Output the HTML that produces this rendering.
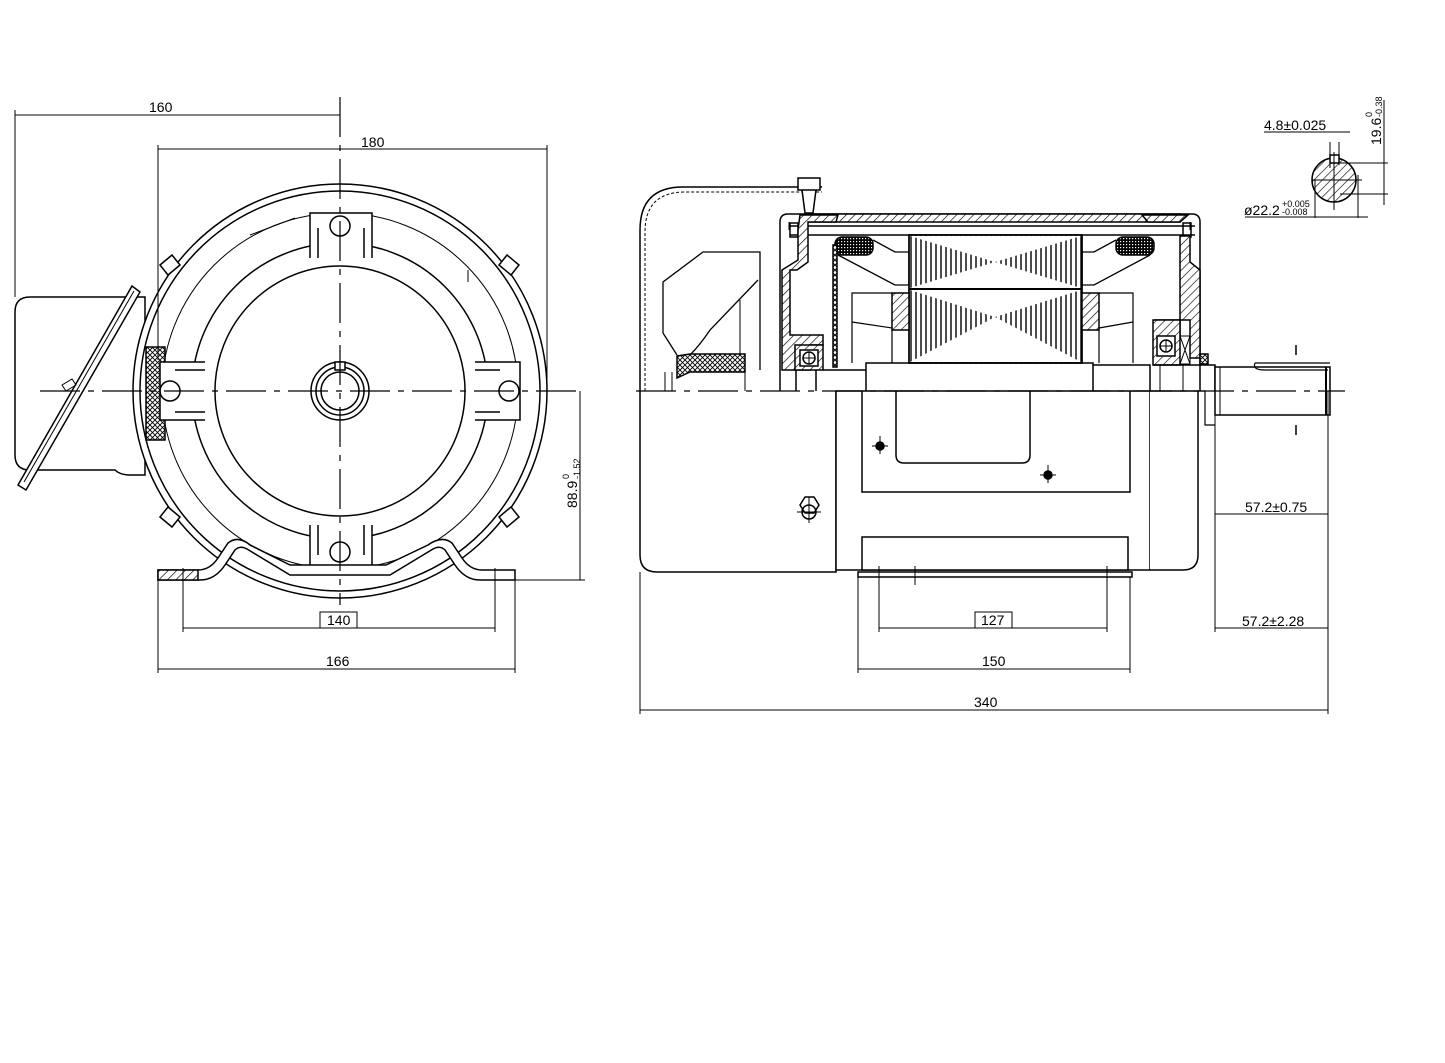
<!DOCTYPE html>
<html><head><meta charset="utf-8"><style>
html,body{margin:0;padding:0;background:#fff}
svg{display:block}
text{font-family:"Liberation Sans",sans-serif;fill:#000}
</style></head><body>
<svg width="1445" height="1063" viewBox="0 0 1445 1063" xmlns="http://www.w3.org/2000/svg">
<defs>
<pattern id="h" width="6" height="6" patternUnits="userSpaceOnUse" patternTransform="rotate(45)">
<rect width="6" height="6" fill="#fff"/><line x1="0" y1="0" x2="0" y2="6" stroke="#000" stroke-width="1.3"/></pattern>
<pattern id="x" width="5" height="5" patternUnits="userSpaceOnUse">
<rect width="5" height="5" fill="#fff"/><path d="M0 0L5 5M5 0L0 5" stroke="#000" stroke-width="0.9"/></pattern>
<pattern id="v" width="5" height="5" patternUnits="userSpaceOnUse">
<rect width="5" height="5" fill="#fff"/><line x1="1" y1="0" x2="1" y2="5" stroke="#000" stroke-width="1.4"/></pattern>
<pattern id="g" width="3" height="3" patternUnits="userSpaceOnUse">
<rect width="3" height="3" fill="#000"/><rect x="1" y="1" width="1.2" height="1.2" fill="#fff"/></pattern>
</defs>
<g fill="none" stroke="#000" stroke-width="1.5">
<!-- ============ LEFT VIEW ============ -->
<path d="M30 297 H145 V475 H130 Q120 475 115 470 L30 470 Q15 470 15 455 V312 Q15 297 30 297Z" fill="#fff"/>
<path d="M18 485 L132 286 L140 292 L26 490Z" fill="#fff"/>
<path d="M24 482 L134 291" stroke-width="1"/>
<path d="M62 385 l10 -6 l4 6 l-10 6z" stroke-width="1"/>
<circle cx="340" cy="391" r="207" fill="#fff"/>
<circle cx="340" cy="391" r="200"/>
<circle cx="340" cy="391" r="178" stroke-width="1"/>
<circle cx="340" cy="391" r="148"/>
<circle cx="340" cy="391" r="125"/>
<circle cx="340" cy="391" r="29"/>
<circle cx="340" cy="391" r="24"/>
<circle cx="340" cy="391" r="19"/>
<rect x="335" y="362" width="10" height="8" fill="#fff"/>
<rect x="146" y="347" width="19" height="93" fill="url(#x)"/>
<path d="M310 258 V213 H372 V258 M318 258 V228 M364 258 V228" fill="#fff"/>
<circle cx="340" cy="226" r="10"/>
<path d="M310 525 V570 H372 V525 M318 525 V555 M364 525 V555" fill="#fff"/>
<circle cx="340" cy="552" r="10"/>
<path d="M205 362 H160 V420 H205 M205 370 H175 M205 412 H175" fill="#fff"/>
<circle cx="170" cy="391" r="10"/>
<path d="M475 362 H520 V420 H475 M475 370 H500 M475 412 H500" fill="#fff"/>
<circle cx="509" cy="391" r="10"/>
<path d="M160 265 l12 -10 l8 10 l-12 10z M507 255 l12 10 l-8 10 l-12 -10z M160 517 l12 10 l8 -10 l-12 -10z M507 527 l12 -10 l-8 -10 l-12 10z" fill="#fff"/>
<path d="M250 235 l45 -17 M468 270 v12" stroke-width="1"/>
<path d="M158 570 H198 Q210 570 218 558 L228 543 Q238 535 250 545 L290 565 L386 565 L428 545 Q442 535 452 543 L462 558 Q470 570 482 570 H515 V580 H480 Q465 580 455 565 L445 550 Q440 545 433 549 L390 575 H290 L247 549 Q240 545 235 550 L225 565 Q215 580 200 580 H158Z" fill="#fff"/>
<rect x="158" y="570" width="40" height="10" fill="url(#h)"/>
<g stroke-width="1.2">
<line x1="340" y1="97" x2="340" y2="605" stroke-dasharray="40 8 6 8"/>
<line x1="40" y1="391" x2="580" y2="391" stroke-dasharray="40 8 6 8"/>
</g>
<g stroke-width="1">
<line x1="15" y1="115" x2="340" y2="115"/><line x1="15" y1="110" x2="15" y2="297"/>
<line x1="158" y1="149" x2="547" y2="149"/><line x1="158" y1="145" x2="158" y2="360"/><line x1="547" y1="145" x2="547" y2="391"/>
<line x1="580" y1="391" x2="580" y2="580"/><line x1="515" y1="580" x2="585" y2="580"/>
<line x1="183" y1="628" x2="495" y2="628"/><line x1="183" y1="568" x2="183" y2="632"/><line x1="495" y1="568" x2="495" y2="632"/>
<line x1="158" y1="669" x2="515" y2="669"/><line x1="158" y1="580" x2="158" y2="673"/><line x1="515" y1="580" x2="515" y2="673"/>
<rect x="320" y="612" width="37" height="16"/>
</g>
<!-- ============ RIGHT VIEW ============ -->
<path d="M640 391 V230 Q640 187 683 187 H822" fill="#fff"/>
<path d="M645 391 V232 Q645 192 685 192 H822" stroke-width="1" stroke-dasharray="3 2"/>
<path d="M640 391 V555 Q640 572 657 572 H836 V391" fill="#fff"/>
<path d="M663 333 V282 L703 252 H760 V370 M663 333 L677 355 M690 355 Q700 345 710 330 L758 280" stroke-width="1.3"/>
<path d="M740 300 V370" stroke-width="1"/>
<path d="M677 356 L690 354 H745 V372 H690 L677 378Z" fill="url(#x)"/>
<path d="M665 372 V391 M672 372 V391 M745 372 V391" stroke-width="1"/>
<path d="M798 178 H820 V190 H798Z M802 190 L805 213 H813 L816 190" fill="#fff"/>
<path d="M780 391 V222 Q780 214 788 214 H1192 Q1200 214 1200 222 V391" fill="#fff"/>
<rect x="808" y="214" width="372" height="8" fill="url(#h)"/>
<path d="M789 222 V230 M1190 222 V230" stroke-width="1"/>
<line x1="790" y1="226" x2="1195" y2="226"/><line x1="790" y1="235" x2="1195" y2="235"/>
<rect x="790" y="223" width="8" height="14"/><rect x="1183" y="223" width="8" height="14"/>
<path d="M800 215 H838 L836 222 H808 V262 L797 270 H790 V335 H823 V345 L810 345 V370 H782 V270 L798 260 V230 L800 215Z" fill="url(#h)"/>
<rect x="795" y="345" width="28" height="25" fill="url(#h)"/>
<rect x="800" y="350" width="18" height="16" fill="#fff"/><circle cx="809" cy="358" r="6"/>
<path d="M803 358 h12 M809 352 v12" stroke-width="1"/>
<path d="M1180 222 L1188 215 H1142 L1148 222Z" fill="url(#h)"/>
<path d="M1180 236 H1190 V262 L1200 270 V358 H1190 V320 H1155 V335 H1180 V276 L1180 262Z" fill="url(#h)"/>
<rect x="1153" y="320" width="27" height="45" fill="url(#h)"/>
<rect x="1157" y="336" width="18" height="20" fill="#fff"/><circle cx="1166" cy="346" r="6"/>
<path d="M1160 346 h12 M1166 340 v12" stroke-width="1"/>
<path d="M1180 336 h10 v28 h-10z M1180 336 l10 28 M1190 336 l-10 28" stroke-width="1"/>
<rect x="1200" y="354" width="8" height="10" fill="url(#x)"/>
<rect x="835" y="237" width="38" height="18" rx="7" fill="url(#g)"/>
<rect x="1116" y="237" width="38" height="18" rx="7" fill="url(#g)"/>
<rect x="833" y="245" width="4" height="122" fill="url(#x)"/>
<path d="M873 240 L895 252 H909 V285 H895 L838 255 M909 285 H900" stroke-width="1.3"/>
<path d="M1116 240 L1094 252 H1082 V285 H1094 L1150 255" stroke-width="1.3"/>
<rect x="909" y="235" width="173" height="128" fill="url(#v)"/>
<path d="M910 236 H1081 L995 262Z M910 288 H1081 L995 262Z M910 290 H1081 L995 317Z M910 362 H1081 L995 317Z" fill="#fff" stroke="none"/>
<rect x="909" y="235" width="173" height="128"/>
<line x1="909" y1="289" x2="1082" y2="289" stroke-width="2"/>
<rect x="892" y="293" width="17" height="37" fill="url(#h)"/>
<rect x="1082" y="293" width="17" height="37" fill="url(#h)"/>
<path d="M892 293 H852 V363 M852 322 L892 328 M1099 293 H1133 V363 M1133 322 L1099 328 M892 330 V363 M1099 330 V363" stroke-width="1.2"/>
<path d="M796 370 V391 M816 370 V391 M823 370 H866 V363 H1093 V391 M866 363 V391 M1093 365 H1150 V391 M1153 365 H1215 V391" />
<path d="M1160 365 V391 M1183 365 V391" stroke-width="1"/>
<rect x="836" y="391" width="314" height="179" fill="#fff"/>
<path d="M862 391 V492 H1130 V391" />
<path d="M896 391 V455 Q896 463 904 463 H1022 Q1030 463 1030 455 V391" />
<path d="M1150 391 H1198 V555 Q1198 570 1183 570 H1150" fill="#fff"/>
<path d="M1198 391 H1205 V425 H1215" stroke-width="1.2"/>
<rect x="862" y="537" width="266" height="33" fill="#fff"/>
<path d="M858 572 H1132 V577 H858Z"/>
<circle cx="880" cy="446" r="4" fill="#000"/><path d="M872 446 h16 M880 436 v18" stroke-width="1"/>
<circle cx="1048" cy="475" r="4" fill="#000"/><path d="M1040 475 h16 M1048 465 v18" stroke-width="1"/>
<path d="M800 505 l5 -8 h9 l5 8 l-5 8 h-9z"/><circle cx="809" cy="512" r="7"/>
<path d="M809 497 v26 M797 512 h24" stroke-width="1"/>
<path d="M1215 367 H1330 V415 H1215Z" fill="#fff"/>
<path d="M1255 363 H1330 M1255 363 Q1252 370 1265 370 H1328" stroke-width="1.2"/>
<line x1="1220" y1="367" x2="1220" y2="415" stroke-width="1"/>
<line x1="1326" y1="367" x2="1326" y2="415" stroke-width="2"/>
<path d="M1296 345 v10 M1296 425 v10" stroke-width="1.5"/>
<line x1="636" y1="391" x2="1345" y2="391" stroke-width="1.2" stroke-dasharray="40 8 6 8"/>
<g stroke-width="1">
<line x1="1215" y1="415" x2="1215" y2="632"/><line x1="1328" y1="391" x2="1328" y2="714"/>
<line x1="1215" y1="514" x2="1328" y2="514"/>
<line x1="1215" y1="628" x2="1328" y2="628"/>
<line x1="879" y1="628" x2="1107" y2="628"/><line x1="879" y1="566" x2="879" y2="632"/><line x1="1107" y1="566" x2="1107" y2="632"/>
<line x1="915" y1="566" x2="915" y2="585"/>
<line x1="858" y1="669" x2="1130" y2="669"/><line x1="858" y1="577" x2="858" y2="673"/><line x1="1130" y1="577" x2="1130" y2="673"/>
<line x1="640" y1="710" x2="1328" y2="710"/><line x1="640" y1="572" x2="640" y2="714"/>
<rect x="975" y="612" width="37" height="16"/>
</g>
<circle cx="1334" cy="180" r="22" fill="url(#h)"/>
<rect x="1330" y="155" width="9" height="8" fill="#fff"/>
<g stroke-width="1">
<line x1="1330" y1="142" x2="1330" y2="168"/><line x1="1339" y1="142" x2="1339" y2="165"/>
<line x1="1264" y1="132" x2="1350" y2="132"/>
<line x1="1312" y1="180" x2="1362" y2="180"/><line x1="1334" y1="152" x2="1334" y2="210"/>
<line x1="1315" y1="180" x2="1315" y2="218"/><line x1="1358" y1="175" x2="1358" y2="218"/>
<line x1="1245" y1="217" x2="1368" y2="217"/>
<line x1="1340" y1="163" x2="1388" y2="163"/><line x1="1340" y1="194" x2="1388" y2="194"/>
<line x1="1384" y1="100" x2="1384" y2="205"/>
</g>
</g>
<g font-size="14">
<text x="149" y="112">160</text>
<text x="361" y="147">180</text>
<text x="327" y="625">140</text>
<text x="326" y="666">166</text>
<text x="981" y="625">127</text>
<text x="982" y="666">150</text>
<text x="974" y="707">340</text>
<text x="1245" y="512">57.2±0.75</text>
<text x="1242" y="626">57.2±2.28</text>
<text x="1264" y="130">4.8±0.025</text>
<text x="1244" y="215">ø22.2</text>
<text x="1282" y="207" font-size="9">+0.005</text>
<text x="1282" y="215" font-size="9">-0.008</text>
<text transform="translate(577,508) rotate(-90)">88.9</text>
<text transform="translate(569,479) rotate(-90)" font-size="9">0</text>
<text transform="translate(580,479) rotate(-90)" font-size="9">-1.52</text>
<text transform="translate(1381,145) rotate(-90)">19.6</text>
<text transform="translate(1372,117) rotate(-90)" font-size="9">0</text>
<text transform="translate(1382,117) rotate(-90)" font-size="9">-0.38</text>
</g>
</svg>
</body></html>
